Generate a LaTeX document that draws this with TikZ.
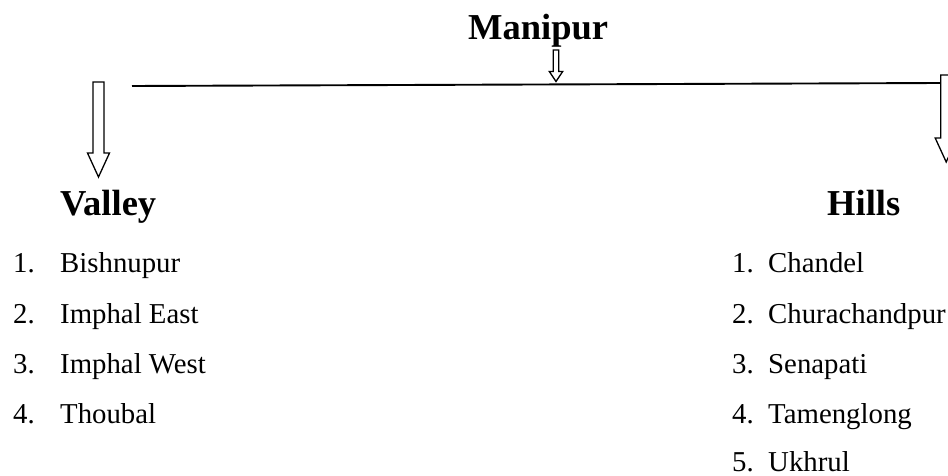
\documentclass[tikz,border=0pt]{standalone}
\usepackage{fontspec}
\setmainfont{Liberation Serif}
\begin{document}
\begin{tikzpicture}[x=1pt,y=-1pt,
  heading/.style={anchor=base west, inner sep=0pt, font=\fontsize{36.5}{40}\selectfont\bfseries},
  item/.style={anchor=base west, inner sep=0pt, text depth=0pt, font=\fontsize{28.8}{34}\selectfont},
  hollowarrow/.style={draw=black, line width=1.3pt, fill=white, line join=miter},
  bar/.style={draw=black, line width=1.9pt}]
\useasboundingbox (0,0) rectangle (948,476);
\clip (0,0) rectangle (948,476);
% title
\node[heading] (manipur) at (468,40) {Manipur};
% horizontal bar
\coordinate (lineL) at (132,86);
\coordinate (lineR) at (940.5,83);
\draw[bar] (lineL) -- (lineR);
% small arrow under title
\draw[hollowarrow] (553.2,50) -- (558.8,50) -- (558.8,71.5) -- (562.7,71.5) -- (556,81.5) -- (549.3,71.5) -- (553.2,71.5) -- cycle;
% left arrow
\draw[hollowarrow] (93,82) -- (104,82) -- (104,153) -- (109.5,153) -- (98.5,177) -- (87.5,153) -- (93,153) -- cycle;
% right arrow
\draw[hollowarrow] (940.7,75) -- (951.7,75) -- (951.7,138) -- (957.2,138) -- (946.2,162) -- (935.2,138) -- (940.7,138) -- cycle;
% headings
\node[heading] (valley) at (60,215) {Valley};
\node[heading] (hills) at (827,215) {Hills};
% valley list
\node[item] (vn1) at (13,272) {1.};
\node[item] (vt1) at (60,272) {Bishnupur};
\node[item] (vn2) at (13,323) {2.};
\node[item] (vt2) at (60,323) {Imphal East};
\node[item] (vn3) at (13,373) {3.};
\node[item] (vt3) at (60,373) {Imphal West};
\node[item] (vn4) at (13,423) {4.};
\node[item] (vt4) at (60,423) {Thoubal};
% hills list
\node[item] (hn1) at (732,272) {1.};
\node[item] (ht1) at (768,272) {Chandel};
\node[item] (hn2) at (732,323) {2.};
\node[item] (ht2) at (768,323) {Churachandpur};
\node[item] (hn3) at (732,373) {3.};
\node[item] (ht3) at (768,373) {Senapati};
\node[item] (hn4) at (732,423) {4.};
\node[item] (ht4) at (768,423) {Tamenglong};
\node[item] (hn5) at (732,471) {5.};
\node[item] (ht5) at (768,471) {Ukhrul};
\end{tikzpicture}
\end{document}
